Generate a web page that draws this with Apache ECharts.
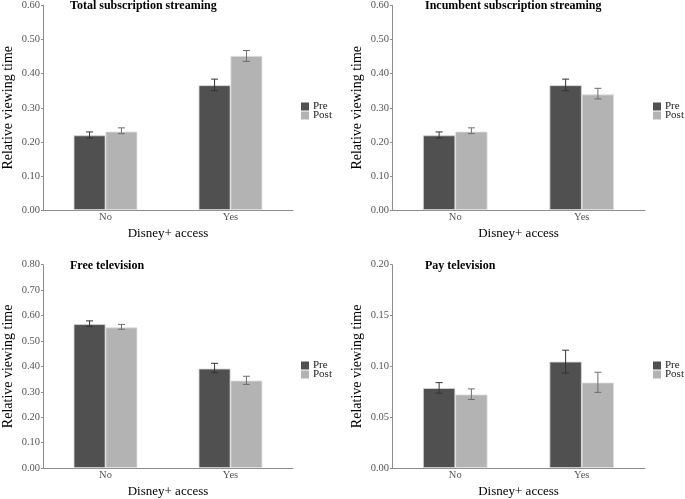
<!DOCTYPE html>
<html>
<head>
<meta charset="utf-8">
<script src="https://cdn.jsdelivr.net/npm/echarts@6/dist/echarts.min.js"></script>
<style>html,body{margin:0;padding:0;background:#fff;}#c{width:685px;height:499px;}</style>
</head>
<body>
<div id="c"></div>
<script>
var categories = ['No', 'Yes'];
var seriesNames = ['Pre', 'Post'];
var panelTitles = ['Total subscription streaming', 'Incumbent subscription streaming', 'Free television', 'Pay television'];
var yMax = [0.6, 0.6, 0.8, 0.2];
var yInterval = [0.1, 0.1, 0.1, 0.05];

var totalPre = [0.219, 0.366], totalPreLow = [0.211, 0.350], totalPreHigh = [0.229, 0.384];
var totalPost = [0.230, 0.452], totalPostLow = [0.224, 0.436], totalPostHigh = [0.241, 0.468];
var incPre = [0.219, 0.366], incPreLow = [0.211, 0.350], incPreHigh = [0.229, 0.384];
var incPost = [0.230, 0.339], incPostLow = [0.224, 0.326], incPostHigh = [0.241, 0.357];
var freePre = [0.566, 0.391], freePreLow = [0.557, 0.375], freePreHigh = [0.579, 0.412];
var freePost = [0.553, 0.344], freePostLow = [0.546, 0.329], freePostHigh = [0.565, 0.361];
var payPre = [0.0786, 0.1046], payPreLow = [0.0736, 0.0934], payPreHigh = [0.0840, 0.1159];
var payPost = [0.0723, 0.0840], payPostLow = [0.0674, 0.0744], payPostHigh = [0.0778, 0.0942];

var panels = [
  {pre: totalPre, preLo: totalPreLow, preHi: totalPreHigh, post: totalPost, postLo: totalPostLow, postHi: totalPostHigh},
  {pre: incPre, preLo: incPreLow, preHi: incPreHigh, post: incPost, postLo: incPostLow, postHi: incPostHigh},
  {pre: freePre, preLo: freePreLow, preHi: freePreHigh, post: freePost, postLo: freePostLow, postHi: freePostHigh},
  {pre: payPre, preLo: payPreLow, preHi: payPreHigh, post: payPost, postLo: payPostLow, postHi: payPostHigh}
];

var FONT = "'Liberation Serif', 'Times New Roman', serif";
var grids = [
  {left: 42, top: 4.7, width: 251, height: 205.3},
  {left: 392, top: 4.7, width: 253, height: 205.3},
  {left: 42, top: 264.7, width: 251, height: 204.6},
  {left: 392, top: 264.7, width: 253, height: 204.6}
];
var titlePos = [{left: 70, top: 0}, {left: 425, top: 0}, {left: 70, top: 260}, {left: 425, top: 260}];
var legendPos = [{left: 301, top: 101}, {left: 653, top: 101}, {left: 301, top: 360}, {left: 653, top: 360}];
var preColor = '#505050', postColor = '#b3b3b3';
var BAR_FRAC = 0.255;

function errSeries(i, lo, hi, side, color) {
  var data = categories.map(function (c, k) { return [k, lo[k], hi[k]]; });
  return {
    type: 'custom', xAxisIndex: i, yAxisIndex: i, z: 10, silent: true,
    data: data,
    renderItem: function (params, api) {
      var band = api.size([1, 0])[0];
      var off = side * band * BAR_FRAC / 2;
      var p1 = api.coord([api.value(0), api.value(1)]);
      var p2 = api.coord([api.value(0), api.value(2)]);
      var x = p1[0] + off;
      var cap = 3.5;
      var st = {stroke: color, lineWidth: 1};
      return {type: 'group', children: [
        {type: 'line', shape: {x1: x, y1: p1[1], x2: x, y2: p2[1]}, style: st},
        {type: 'line', shape: {x1: x - cap, y1: p1[1], x2: x + cap, y2: p1[1]}, style: st},
        {type: 'line', shape: {x1: x - cap, y1: p2[1], x2: x + cap, y2: p2[1]}, style: st}
      ]};
    }
  };
}

var option = {
  animation: false,
  backgroundColor: '#fff',
  textStyle: {fontFamily: FONT},
  title: panelTitles.map(function (t, i) {
    return {text: t, left: titlePos[i].left, top: titlePos[i].top, padding: 0,
      textStyle: {fontFamily: FONT, fontWeight: 'bold', fontSize: 12, color: '#000'}};
  }),
  legend: legendPos.map(function (p, i) {
    return {data: seriesNames, orient: 'vertical', left: p.left, top: p.top, padding: 0,
      itemWidth: 8, itemHeight: 8, itemGap: -2, icon: 'rect', selectedMode: false,
      itemStyle: {borderWidth: 0},
      textStyle: {fontFamily: FONT, fontSize: 11, color: '#222', padding: [0, 0, 0, -1]}};
  }),
  grid: grids,
  xAxis: grids.map(function (g, i) {
    return {type: 'category', gridIndex: i, data: categories,
      name: 'Disney+ access', nameLocation: 'middle', nameGap: 17,
      nameTextStyle: {fontFamily: FONT, fontSize: 13, color: '#000'},
      axisLine: {lineStyle: {color: '#8c8c8c', width: 1}},
      axisTick: {alignWithLabel: true, length: 3, lineStyle: {color: '#8c8c8c'}},
      axisLabel: {fontFamily: FONT, fontSize: 10.5, color: '#555', margin: 2}};
  }),
  yAxis: grids.map(function (g, i) {
    return {type: 'value', gridIndex: i, min: 0, max: yMax[i], interval: yInterval[i],
      name: 'Relative viewing time', nameLocation: 'middle', nameGap: 28,
      nameTextStyle: {fontFamily: FONT, fontSize: 14, color: '#000'},
      axisLine: {show: true, lineStyle: {color: '#8c8c8c', width: 1}},
      axisTick: {show: true, length: 2, lineStyle: {color: '#8c8c8c'}},
      splitLine: {show: false},
      axisLabel: {fontFamily: FONT, fontSize: 10.5, color: '#555', margin: 3,
        formatter: function (v) { return v.toFixed(2); }}};
  }),
  series: []
};

panels.forEach(function (p, i) {
  option.series.push({name: 'Pre', type: 'bar', xAxisIndex: i, yAxisIndex: i, data: p.pre,
    barWidth: (BAR_FRAC * 100) + '%', barGap: '0%', itemStyle: {color: preColor, borderColor: '#d6d6d6', borderWidth: 0.8}});
  option.series.push({name: 'Post', type: 'bar', xAxisIndex: i, yAxisIndex: i, data: p.post,
    barWidth: (BAR_FRAC * 100) + '%', barGap: '0%', itemStyle: {color: postColor, borderColor: '#e0e0e0', borderWidth: 0.8}});
  option.series.push(errSeries(i, p.preLo, p.preHi, -1, '#333'));
  option.series.push(errSeries(i, p.postLo, p.postHi, 1, '#6e6e6e'));
});

var chart = echarts.init(document.getElementById('c'), null, {renderer: 'canvas'});
chart.setOption(option);
</script>
</body>
</html>
